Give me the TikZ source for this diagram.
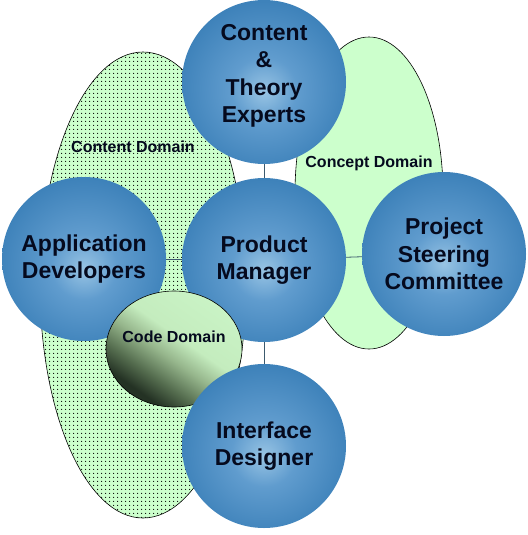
\documentclass[tikz,border=0pt]{standalone}
\usepackage{fontspec}
\setmainfont{Liberation Sans}
\usetikzlibrary{patterns}
\definecolor{domfill}{RGB}{204,255,204}
\definecolor{ballA}{RGB}{152,196,228}
\definecolor{ballB}{RGB}{96,156,206}
\definecolor{ballC}{RGB}{62,130,186}
\definecolor{ballD}{RGB}{52,116,172}
\definecolor{ballE}{RGB}{40,98,150}
\definecolor{codeA}{RGB}{36,50,36}
\definecolor{codeB}{RGB}{84,108,78}
\definecolor{codeC}{RGB}{150,182,140}
\definecolor{codeD}{RGB}{196,236,190}
\definecolor{codeE}{RGB}{208,252,206}
\definecolor{linkc}{RGB}{60,90,110}
\definecolor{txt}{RGB}{5,10,30}
\pgfdeclareradialshading{blueball}{\pgfpoint{0bp}{-3bp}}{color(0bp)=(ballA); color(10bp)=(ballB); color(26bp)=(ballC); color(43bp)=(ballD); color(50bp)=(ballE)}
\pgfdeclareverticalshading{codeshade}{100bp}{color(0bp)=(codeA); color(28bp)=(codeA); color(36bp)=(codeB); color(46bp)=(codeC); color(55bp)=(codeD); color(100bp)=(codeE)}
\pgfdeclarepatternformonly{mydots}{\pgfpointorigin}{\pgfpoint{4pt}{4pt}}{\pgfpoint{4pt}{4pt}}{\pgfpathcircle{\pgfpoint{2pt}{2pt}}{0.7pt}\pgfusepath{fill}}
\tikzset{
  roletext/.style={align=center, text=txt, inner sep=0pt, font=\bfseries\fontsize{23}{27.5}\selectfont},
  ball/.style={circle, minimum size=164pt, inner sep=0pt, shading=blueball, roletext},
  domlabel/.style={font=\bfseries\fontsize{16}{19}\selectfont, text=txt, inner sep=0pt},
  domline/.style={draw=black, line width=0.6pt},
  link/.style={draw=linkc, line width=0.8pt}
}
\begin{document}
\begin{tikzpicture}[x=1pt,y=-1pt]
\useasboundingbox (0,0) rectangle (527,535);
% domains
\fill[domfill] (143,285) ellipse [x radius=103, y radius=233];
\fill[pattern=mydots, pattern color=black] (143,285) ellipse [x radius=103, y radius=233];
\draw[domline] (143,285) ellipse [x radius=103, y radius=233];
\draw[domline, fill=domfill] (369,193) ellipse [x radius=74, y radius=156];
\node[domlabel] (cdl) at (133,147) {Content Domain};
\node[domlabel] (cpl) at (369,163) {Concept Domain};
% roles
\node[ball] (top) at (264,82) {};
\node[roletext] (toptext) at (264,76) {Content\\\&\\Theory\\Experts};
\node[ball] (ad) at (84,259) {Application\\Developers};
\node[ball] (pm) at (264,260) {Product\\Manager};
\node[ball] (psc) at (444,254) {Project\\Steering\\Committee};
% code domain
\path[domline, shading=codeshade, shading angle=-35] (174,349) ellipse [x radius=68, y radius=58];
\node[domlabel] (cod) at (174,337) {Code Domain};
\node[ball] (id) at (264,446) {Interface\\Designer};
% links
\draw[link] (top) -- (pm);
\draw[link] (pm) -- (id);
\draw[link] (ad) -- (pm);
\draw[link] (pm) -- (psc);
\end{tikzpicture}
\end{document}
